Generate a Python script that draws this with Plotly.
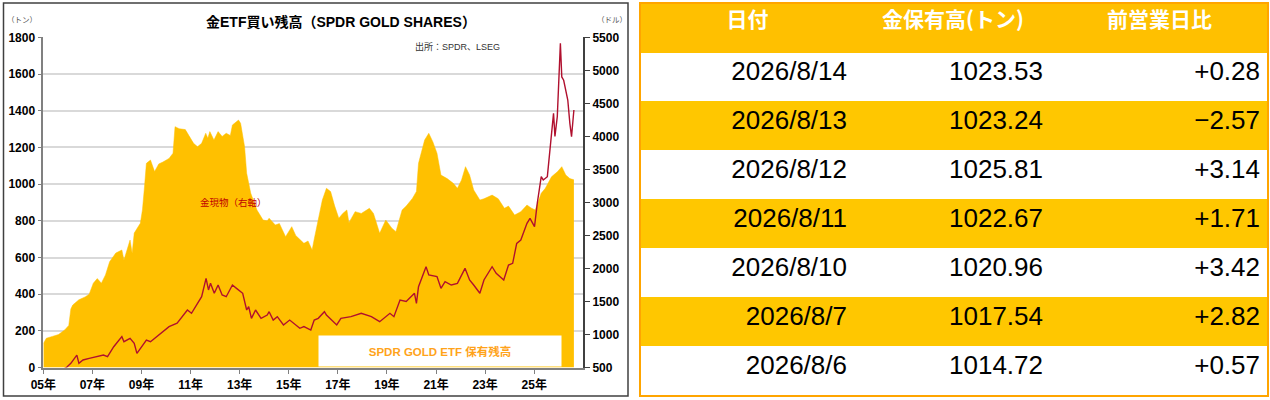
import plotly.graph_objects as go

W, H = 1270, 400

# SPDR保有残高(トン)
etf_dates = [
    "2005-01-03", "2005-02-15", "2005-05-15", "2005-08-15", "2005-11-15",
    "2006-01-15", "2006-02-15", "2006-03-15", "2006-06-15", "2006-09-15", "2006-11-15",
    "2007-01-15", "2007-03-15", "2007-05-15", "2007-07-15", "2007-09-15", "2007-12-15",
    "2008-03-15", "2008-04-15", "2008-07-15", "2008-08-15", "2008-09-15", "2008-12-15",
    "2009-01-15", "2009-02-15", "2009-03-15", "2009-05-15", "2009-07-15", "2009-09-15", "2009-11-15",
    "2010-02-15", "2010-04-15", "2010-05-15", "2010-07-15", "2010-10-15", "2010-12-15",
    "2011-02-15", "2011-04-15", "2011-06-15", "2011-08-15", "2011-09-15", "2011-10-15", "2011-12-15",
    "2012-02-15", "2012-04-15", "2012-06-15", "2012-08-15", "2012-09-15", "2012-12-15",
    "2013-01-15", "2013-03-15", "2013-04-15", "2013-06-15", "2013-09-15", "2013-12-15",
    "2014-02-15", "2014-03-15", "2014-06-15", "2014-08-15", "2014-11-15",
    "2015-02-15", "2015-04-15", "2015-06-15", "2015-08-15", "2015-10-15", "2015-12-15",
    "2016-01-15", "2016-03-15", "2016-05-15", "2016-07-15", "2016-09-15", "2016-11-15",
    "2017-01-15", "2017-03-15", "2017-05-15", "2017-06-15", "2017-09-15", "2017-12-15",
    "2018-04-15", "2018-06-15", "2018-09-15", "2018-12-15",
    "2019-03-15", "2019-05-15", "2019-08-15", "2019-10-15",
    "2020-01-15", "2020-03-15", "2020-04-15", "2020-07-15", "2020-09-15", "2020-11-15",
    "2021-01-15", "2021-03-15", "2021-06-15", "2021-09-15", "2021-11-15",
    "2022-01-15", "2022-03-15", "2022-05-15", "2022-07-15", "2022-10-15", "2022-12-15",
    "2023-04-15", "2023-07-15", "2023-10-15", "2023-12-15",
    "2024-03-15", "2024-06-15", "2024-09-15", "2024-11-15",
    "2025-01-15", "2025-04-15", "2025-06-15", "2025-09-15", "2025-12-15",
    "2026-02-15", "2026-04-15", "2026-06-15", "2026-08-14",
]
etf_tons = [
    132, 160, 170, 180, 205,
    230, 320, 341, 370, 385, 400,
    460, 485, 460, 505, 577, 624,
    641, 586, 695, 623, 733, 787,
    859, 986, 1113, 1131, 1068, 1110, 1120,
    1140, 1168, 1313, 1302, 1297, 1258,
    1222, 1204, 1222, 1277, 1250, 1286, 1240,
    1286, 1260, 1277, 1265, 1322, 1349,
    1331, 1204, 1059, 950, 859, 804,
    800, 814, 777, 785, 713,
    768, 720, 700, 677, 690, 641,
    700, 814, 913, 977, 959, 880,
    814, 840, 859, 790, 850, 840,
    868, 840, 732, 804,
    760, 741, 859, 880,
    922, 960, 1113, 1240, 1277, 1230,
    1168, 1049, 1030, 1004, 977,
    1022, 1095, 1050, 968, 913, 920,
    940, 920, 868, 880,
    831, 850, 886, 870,
    859, 950, 977, 1040, 1068,
    1095, 1050, 1030, 1023.53,
]

# 金現物(ドル)
gold_dates = [
    "2005-01-15", "2005-06-15", "2005-10-15", "2005-12-15",
    "2006-02-15", "2006-05-15", "2006-06-15", "2006-08-15", "2006-11-15",
    "2007-02-15", "2007-06-15", "2007-08-15", "2007-11-15",
    "2008-03-15", "2008-04-15", "2008-07-15", "2008-09-15", "2008-10-25",
    "2009-01-15", "2009-03-15", "2009-05-15", "2009-08-15", "2009-11-15",
    "2010-01-15", "2010-02-15", "2010-06-15", "2010-08-15", "2010-11-15",
    "2011-01-15", "2011-05-15", "2011-06-15", "2011-08-20", "2011-09-25", "2011-10-25", "2011-12-20",
    "2012-02-15", "2012-04-15", "2012-06-15", "2012-09-15", "2012-11-15",
    "2013-02-15", "2013-04-15", "2013-05-15", "2013-06-25", "2013-08-25", "2013-11-15",
    "2014-02-15", "2014-03-15", "2014-05-15", "2014-07-15", "2014-10-15",
    "2015-01-15", "2015-03-15", "2015-06-15", "2015-08-15", "2015-11-25",
    "2016-01-15", "2016-03-15", "2016-06-15", "2016-07-15", "2016-12-15",
    "2017-02-15", "2017-07-15", "2017-12-15",
    "2018-05-15", "2018-09-15",
    "2019-02-15", "2019-04-15", "2019-07-15", "2019-10-15",
    "2020-02-15", "2020-03-15", "2020-04-15", "2020-08-05", "2020-09-15",
    "2021-01-15", "2021-03-15", "2021-05-15", "2021-08-15", "2021-11-15",
    "2022-03-08", "2022-05-15", "2022-07-15", "2022-10-15", "2022-12-15",
    "2023-04-15", "2023-06-15", "2023-10-05", "2023-12-15",
    "2024-02-15", "2024-04-15", "2024-06-15", "2024-09-15", "2024-10-30",
    "2025-01-05", "2025-02-15", "2025-04-15", "2025-05-15", "2025-07-15",
    "2025-09-15", "2025-10-15", "2025-11-05", "2025-12-10",
    "2026-01-25", "2026-02-15", "2026-03-15", "2026-04-15", "2026-05-15",
    "2026-06-15", "2026-07-10", "2026-08-14",
]
gold_usd = [
    425, 430, 470, 505,
    565, 690, 565, 615, 640,
    665, 690, 665, 816,
    968, 892, 943, 868, 716,
    842, 918, 892, 968, 1044,
    1095, 1120, 1171, 1246, 1372,
    1322, 1523, 1573, 1851, 1675, 1776, 1625,
    1750, 1599, 1573, 1750, 1700,
    1625, 1372, 1422, 1246, 1372, 1246,
    1296, 1346, 1220, 1271, 1145,
    1220, 1171, 1095, 1120, 1069,
    1220, 1246, 1346, 1296, 1145,
    1246, 1271, 1322,
    1271, 1195,
    1322, 1271, 1523, 1500,
    1625, 1473, 1725, 2027, 1902,
    1877, 1700, 1801, 1750, 1776,
    2003, 1826, 1750, 1625, 1826,
    2027, 1927, 1826, 2053,
    2078, 2381, 2431, 2684, 2760,
    2633, 2987, 3390, 3340, 3390,
    3995, 4349, 4000, 4300,
    5409, 4900, 4850, 4700, 4551,
    4198, 3995, 4399,
]

# 表
table_header = ["日付", "金保有高(トン)", "前営業日比"]
table_dates = ["2026/8/14", "2026/8/13", "2026/8/12", "2026/8/11", "2026/8/10", "2026/8/7", "2026/8/6"]
table_tons = [1023.53, 1023.24, 1025.81, 1022.67, 1020.96, 1017.54, 1014.72]
table_change = [0.28, -2.57, 3.14, 1.71, 3.42, 2.82, 0.57]

tick_years = list(range(2005, 2026, 2))


def px_x(x):
    return x / W


def px_y(y):
    return 1 - y / H


font_jp = "Liberation Sans, Noto Sans CJK JP"
yellow = "#FFC000"

fig = go.Figure()

fig.add_trace(go.Scatter(x=etf_dates, y=etf_tons, mode="lines", fill="tozeroy",
                         line=dict(color=yellow, width=0.5), fillcolor=yellow,
                         name="SPDR GOLD ETF 保有残高", xaxis="x", yaxis="y"))
fig.add_trace(go.Scatter(x=gold_dates, y=gold_usd, mode="lines",
                         line=dict(color="#B0102E", width=1.4),
                         name="金現物", xaxis="x", yaxis="y2"))

row_fill = ["white" if i % 2 == 0 else "#FFC700" for i in range(len(table_dates))]
fig.add_trace(go.Table(
    domain=dict(x=[px_x(640), px_x(1268)], y=[px_y(396), px_y(3)]),
    columnwidth=[215, 196, 217],
    header=dict(values=table_header, fill_color=yellow, align="center", height=49,
                line=dict(color=yellow, width=1),
                font=dict(family="Noto Sans CJK JP", size=21, color="white", weight="bold")),
    cells=dict(values=[table_dates,
                       [f"{v:.2f}" for v in table_tons],
                       [f"{v:+.2f}".replace("-", "\u2212") for v in table_change]],
               fill_color=[row_fill] * 3, line=dict(color=[row_fill] * 3, width=1),
               align="right", height=49,
               font=dict(family="Liberation Sans", size=26, color="black")),
))

tickfont = dict(family=font_jp, size=12, color="black", weight="bold")

fig.update_layout(
    width=W, height=H,
    # 余白は 0 のまま、自動拡張もさせない
    margin=dict(l=0, r=0, t=0, b=0, autoexpand=False),
    paper_bgcolor="white", plot_bgcolor="white",
    showlegend=False,
    xaxis=dict(domain=[px_x(43.3), px_x(583.3)], type="date",
               range=["2005-01-01", "2027-01-01"],
               tickvals=[f"{y}-01-01" for y in tick_years],
               ticktext=[f"{y % 100:02d}年" for y in tick_years],
               ticks="outside", ticklen=5, tickcolor="#808080",
               showline=True, linecolor="#808080", linewidth=1.5,
               showgrid=False, tickfont=tickfont, automargin=False),
    yaxis=dict(domain=[px_y(367.6), px_y(37.3)], range=[0, 1800], dtick=200,
               ticks="outside", ticklen=4, tickcolor="#808080",
               showline=True, linecolor="#808080", linewidth=1.5,
               gridcolor="#D9D9D9", gridwidth=1.5, zeroline=False,
               tickfont=tickfont, automargin=False),
    yaxis2=dict(overlaying="y", side="right", anchor="x", range=[500, 5500], dtick=500,
                ticks="outside", ticklen=5, tickcolor="#404040",
                showline=True, linecolor="#404040", linewidth=1.5,
                showgrid=False, zeroline=False, tickfont=tickfont, automargin=False),
)

annotations = [
    dict(x=px_x(341), y=px_y(22), text="金ETF買い残高（SPDR GOLD SHARES）",
         font=dict(family=font_jp, size=14, color="black", weight="bold")),
    dict(x=px_x(22), y=px_y(21), text="（トン）", font=dict(family=font_jp, size=7.5, color="#555")),
    dict(x=px_x(612), y=px_y(20), text="（ドル）", font=dict(family=font_jp, size=7.5, color="#555")),
    dict(x=px_x(457), y=px_y(46), text="出所：SPDR、LSEG", font=dict(family=font_jp, size=9, color="#333")),
    dict(x=px_x(233), y=px_y(202), text="金現物（右軸）", font=dict(family=font_jp, size=9.5, color="#C00000")),
    dict(x=px_x(439.5), y=px_y(350.5), text="SPDR GOLD ETF 保有残高",
         width=242, height=30, bgcolor="white", borderpad=0,
         font=dict(family=font_jp, size=11.5, color="#FFA31A", weight="bold")),
]
for a in annotations:
    a.update(xref="paper", yref="paper", showarrow=False, xanchor="center", yanchor="middle")
fig.update_layout(annotations=annotations)

fig.update_layout(shapes=[
    dict(type="rect", xref="paper", yref="paper",
         x0=px_x(3.5), x1=px_x(628), y0=px_y(396), y1=px_y(3),
         line=dict(color="#404040", width=1.5)),
    dict(type="rect", xref="paper", yref="paper",
         x0=px_x(640), x1=px_x(1268), y0=px_y(396), y1=px_y(3),
         line=dict(color="#FFA500", width=2)),
])

# ページの余白を消して 1270x400 にぴったり合わせる、モードバーは出さない
fig.write_html("out.html", config={"displayModeBar": False},
               post_script="document.body.style.margin='0';")
